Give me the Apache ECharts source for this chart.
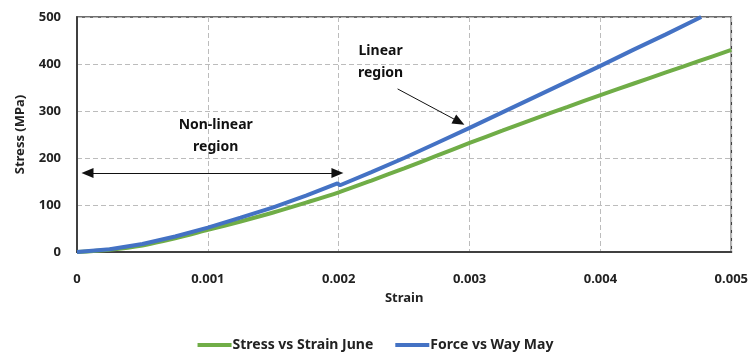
<!DOCTYPE html>
<html>
<head>
<meta charset="utf-8">
<script src="https://cdn.jsdelivr.net/npm/echarts@6/dist/echarts.min.js"></script>
<style>
  html, body { margin: 0; padding: 0; background: #fff; }
  #chart { width: 751px; height: 355px; }
</style>
</head>
<body>
<div id="chart"></div>
<script>
// Strain values (x) and stress in MPa (y) for each test
const juneStrain = [0, 0.00025, 0.0005, 0.00075, 0.001, 0.00125, 0.0015, 0.00175, 0.002, 0.00225, 0.0025, 0.00275, 0.003, 0.00325, 0.0035, 0.00375, 0.004, 0.00425, 0.0045, 0.00475, 0.005];
const juneStress = [0, 5, 14, 29, 47, 65, 84, 105, 127, 152, 178, 205, 232, 258, 284, 309, 334, 358, 382, 406, 430];

const mayStrain = [0, 0.00025, 0.0005, 0.00075, 0.001, 0.00125, 0.0015, 0.00175, 0.00199, 0.00201, 0.00225, 0.0025, 0.00275, 0.003, 0.00325, 0.0035, 0.00375, 0.004, 0.00425, 0.0045, 0.00477];
const mayStress = [0, 6, 17, 33, 52, 73, 95, 120, 146, 142, 170, 200, 232, 264, 297, 330, 363, 396, 430, 463, 500];

const seriesNames = ['Stress vs Strain June', 'Force vs Way May'];
const xTicks = [0, 0.001, 0.002, 0.003, 0.004, 0.005];

const FONT = 'Noto Sans';
const pair = (xs, ys) => xs.map((x, i) => [x, ys[i]]);

const chart = echarts.init(document.getElementById('chart'), null, { renderer: 'canvas' });

const option = {
  animation: false,
  grid: { left: 77, right: 19, top: 17, bottom: 103, show: true, borderColor: '#404040', borderWidth: 1.5 },
  textStyle: { fontFamily: FONT },
  xAxis: {
    type: 'value', min: 0, max: 0.005, interval: 0.001,
    name: 'Strain', nameLocation: 'middle', nameGap: 40,
    nameTextStyle: { fontFamily: FONT, fontSize: 13, fontWeight: 'bold', color: '#222' },
    axisLine: { lineStyle: { color: '#404040', width: 2 } },
    axisTick: { show: false },
    axisLabel: {
      margin: 21, fontFamily: FONT, fontSize: 13, fontWeight: 'bold', color: '#222',
      formatter: v => { const t = xTicks.find(k => Math.abs(k - v) < 1e-9); return t === 0 ? '0' : String(t); }
    },
    splitLine: { show: true, lineStyle: { color: '#bcbcbc', type: [5, 3], width: 1 } }
  },
  yAxis: {
    type: 'value', min: 0, max: 500, interval: 100,
    name: 'Stress (MPa)', nameLocation: 'middle', nameGap: 50, nameRotate: 90,
    nameTextStyle: { fontFamily: FONT, fontSize: 13, fontWeight: 'bold', color: '#222' },
    axisLine: { show: true, lineStyle: { color: '#404040', width: 2 } },
    axisTick: { show: false },
    axisLabel: { margin: 16, fontFamily: FONT, fontSize: 13, fontWeight: 'bold', color: '#222' },
    splitLine: { show: true, lineStyle: { color: '#bcbcbc', type: [5, 3], width: 1 } }
  },
  legend: {
    bottom: -2, left: 'center', itemGap: 22, itemWidth: 34, itemHeight: 4, icon: 'rect',
    textStyle: { fontFamily: FONT, fontSize: 14, fontWeight: 'bold', color: '#222', padding: [0, 0, 0, -4] },
    data: seriesNames
  },
  series: [
    {
      name: seriesNames[0], type: 'line', data: pair(juneStrain, juneStress),
      showSymbol: false, smooth: 0.3, color: '#70ad47',
      lineStyle: { width: 4, color: '#70ad47' }, z: 3
    },
    {
      name: seriesNames[1], type: 'line', data: pair(mayStrain, mayStress),
      showSymbol: false, smooth: false, color: '#4472c4',
      lineStyle: { width: 4, color: '#4472c4' }, z: 4,
      markLine: {
        silent: true, animation: false,
        lineStyle: { color: '#111', width: 1, type: 'solid' },
        label: { show: false },
        data: [
          [ { coord: [0.00008, 168], symbol: 'triangle', symbolSize: [10, 12] },
            { coord: [0.00199, 168], symbol: 'triangle', symbolSize: [10, 12] } ],
          [ { coord: [0.00245, 347], symbol: 'none' },
            { coord: [0.00292, 277], symbol: 'triangle', symbolSize: [10, 12] } ]
        ]
      }
    }
  ]
};
chart.setOption(option);

// Region annotations placed in data space
const notes = [
  { lines: ['Non-linear', 'region'], at: [0.00106, 246] },
  { lines: ['Linear', 'region'], at: [0.00232, 404] }
];
const graphics = [];
notes.forEach(n => {
  const p = chart.convertToPixel({ gridIndex: 0 }, n.at);
  graphics.push({
    type: 'text', x: p[0], y: p[1],
    style: {
      text: n.lines.join('\n'), align: 'center', verticalAlign: 'middle',
      font: 'bold 14px "Noto Sans"', fill: '#111', lineHeight: 22
    },
    z: 10
  });
});
chart.setOption({ graphic: graphics });
</script>
</body>
</html>
